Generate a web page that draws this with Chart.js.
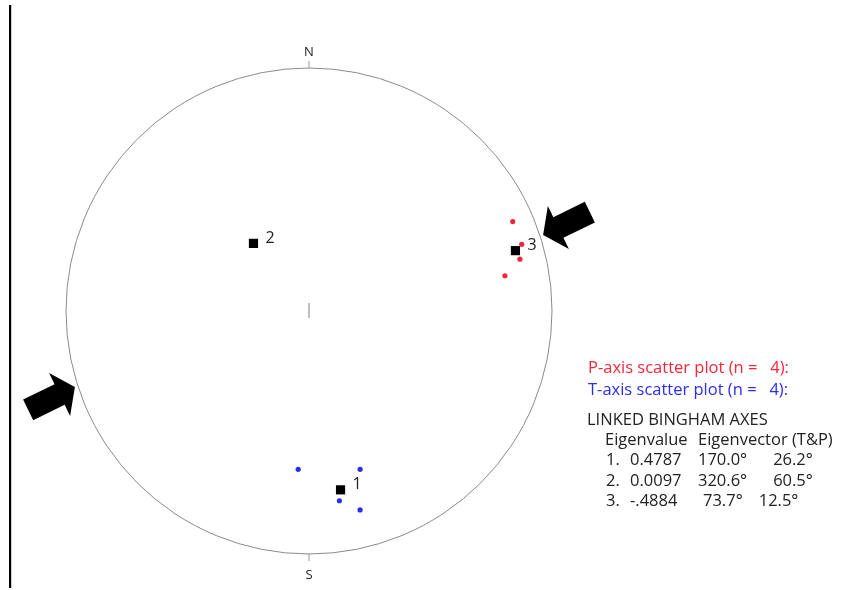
<!DOCTYPE html>
<html>
<head>
<meta charset="utf-8">
<script src="https://cdn.jsdelivr.net/npm/chart.js@4/dist/chart.umd.min.js"></script>
<style>
  html, body { margin: 0; padding: 0; background: #fff; }
  #wrap { position: relative; width: 842px; height: 590px; }
</style>
</head>
<body>
<div id="wrap"><canvas id="net" width="842" height="590"></canvas></div>
<script>
// P (pressure) axes: trend / plunge in degrees
const pTrend  = [66.3, 72.6, 76.2, 79.8];
const pPlunge = [9.3, 9.1, 11.6, 19.2];

// T (tension) axes: trend / plunge in degrees
const tTrend  = [183.9, 162.1, 170.9, 165.6];
const tPlunge = [35.0, 32.1, 22.0, 16.6];

// Linked Bingham axes
const axisLabels   = ['1', '2', '3'];
const eigenvalues  = ['0.4787', '0.0097', '-.4884'];
const axisTrend    = [170.0, 320.6, 73.7];
const axisPlunge   = [26.2, 60.5, 12.5];

// Compass marks on the primitive
const compassLabels = ['N', 'S'];
const compassTrend  = [0, 180];

// Shortening arrows (azimuth of tip placement and arrow heading)
const arrowSites   = [72, 252];
const arrowHeading = 64;

const FONT = '"Open Sans", "Noto Sans", sans-serif';
const RED = '#f5263c';
const BLUE = '#2c2cf2';

// Lambert equal-area, lower hemisphere; unit circle = horizontal plane
function project(trend, plunge) {
  const r = Math.SQRT2 * Math.sin((90 - plunge) / 2 * Math.PI / 180);
  const t = trend * Math.PI / 180;
  return { x: r * Math.sin(t), y: r * Math.cos(t) };
}
const toPoints = (tr, pl) => tr.map((t, i) => project(t, pl[i]));

const stereonetPlugin = {
  id: 'stereonet',
  beforeDatasetsDraw(chart) {
    const { ctx, scales: { x, y } } = chart;
    const cx = x.getPixelForValue(0), cy = y.getPixelForValue(0);
    const R = x.getPixelForValue(1) - cx;
    ctx.save();

    // left frame rule
    ctx.fillStyle = '#000';
    ctx.fillRect(9, 5, 2.2, 583);

    // primitive circle
    ctx.strokeStyle = '#8a8a8a';
    ctx.lineWidth = 1;
    ctx.beginPath();
    ctx.arc(cx, cy, R, 0, Math.PI * 2);
    ctx.stroke();

    // compass ticks and letters
    ctx.font = '13px ' + FONT;
    ctx.fillStyle = '#222';
    ctx.textAlign = 'center';
    ctx.textBaseline = 'middle';
    compassLabels.forEach((lab, i) => {
      const a = compassTrend[i] * Math.PI / 180;
      const sx = Math.sin(a), sy = -Math.cos(a);
      ctx.strokeStyle = '#999';
      ctx.beginPath();
      ctx.moveTo(cx + sx * R, cy + sy * R);
      ctx.lineTo(cx + sx * (R + 7), cy + sy * (R + 7));
      ctx.stroke();
      const off = sy < 0 ? 16 : 21;
      ctx.fillText(lab, cx + sx * (R + off), cy + sy * (R + off));
    });

    // centre mark
    ctx.strokeStyle = '#b0b0b0';
    ctx.lineWidth = 1.6;
    ctx.beginPath();
    ctx.moveTo(cx, cy - 8);
    ctx.lineTo(cx, cy + 7);
    ctx.stroke();

    // block arrows pointing inward
    ctx.fillStyle = '#000';
    arrowSites.forEach(site => {
      const a = site * Math.PI / 180;
      const tipX = cx + Math.sin(a) * R * 1.013;
      const tipY = cy - Math.cos(a) * R * 1.013;
      // unit vector from tip back toward tail
      const h = arrowHeading * Math.PI / 180;
      let ux = Math.sin(h), uy = -Math.cos(h);
      if (Math.cos(a - h) < 0) { ux = -ux; uy = -uy; }
      const px = -uy, py = ux;
      const headLen = 17, headHalf = 24, shaftHalf = 11.5, total = 52;
      const P = (al, pe) => [tipX + ux * al + px * pe, tipY + uy * al + py * pe];
      const pts = [
        P(0, 0), P(headLen, headHalf), P(headLen, shaftHalf), P(total, shaftHalf),
        P(total, -shaftHalf), P(headLen, -shaftHalf), P(headLen, -headHalf)
      ];
      ctx.beginPath();
      pts.forEach((p, i) => i ? ctx.lineTo(p[0], p[1]) : ctx.moveTo(p[0], p[1]));
      ctx.closePath();
      ctx.fill();
    });
    ctx.restore();
  },
  afterDatasetsDraw(chart) {
    const { ctx } = chart;
    const meta = chart.getDatasetMeta(2);
    ctx.save();
    ctx.font = '16px ' + FONT;
    ctx.fillStyle = '#222';
    ctx.textAlign = 'left';
    ctx.textBaseline = 'middle';
    meta.data.forEach((el, i) => {
      ctx.fillText(axisLabels[i], el.x + 12, el.y - 5);
    });

    // summary text
    ctx.font = '16.5px ' + FONT;
    ctx.fillStyle = RED;
    ctx.fillText(`P-axis scatter plot (n =   ${pTrend.length}):`, 588, 368);
    ctx.fillStyle = BLUE;
    ctx.fillText(`T-axis scatter plot (n =   ${tTrend.length}):`, 588, 390);
    ctx.fillStyle = '#222';
    ctx.fillText('LINKED BINGHAM AXES', 587, 420);
    ctx.fillText('Eigenvalue', 605, 440);
    ctx.fillText('Eigenvector (T&P)', 698, 440);
    axisLabels.forEach((lab, i) => {
      const yy = 460 + i * 20.8;
      ctx.fillText(lab + '.', 606, yy);
      ctx.fillText(eigenvalues[i], 630, yy);
      const tStr = axisTrend[i].toFixed(1) + '°';
      const tx = axisTrend[i] < 100 ? 703 : 698;
      ctx.fillText(tStr, tx, yy);
      const w = ctx.measureText(tStr).width;
      ctx.fillText(axisPlunge[i].toFixed(1) + '°', tx + w + (axisTrend[i] < 100 ? 16 : 26), yy);
    });
    ctx.restore();
  }
};

new Chart(document.getElementById('net'), {
  type: 'scatter',
  data: {
    datasets: [
      {
        label: 'P-axes',
        data: toPoints(pTrend, pPlunge),
        backgroundColor: RED,
        borderColor: RED,
        pointRadius: 2.6,
        borderWidth: 0
      },
      {
        label: 'T-axes',
        data: toPoints(tTrend, tPlunge),
        backgroundColor: BLUE,
        borderColor: BLUE,
        pointRadius: 2.6,
        borderWidth: 0
      },
      {
        label: 'Bingham axes',
        data: toPoints(axisTrend, axisPlunge),
        backgroundColor: '#000',
        borderColor: '#000',
        pointStyle: 'rect',
        pointRadius: 6.5,
        borderWidth: 0
      }
    ]
  },
  options: {
    responsive: false,
    animation: false,
    layout: { padding: { left: 66, right: 290, top: 68, bottom: 36 } },
    scales: {
      x: { type: 'linear', min: -1, max: 1, display: false },
      y: { type: 'linear', min: -1, max: 1, display: false }
    },
    plugins: {
      legend: { display: false },
      tooltip: { enabled: false }
    }
  },
  plugins: [stereonetPlugin]
});
</script>
</body>
</html>
